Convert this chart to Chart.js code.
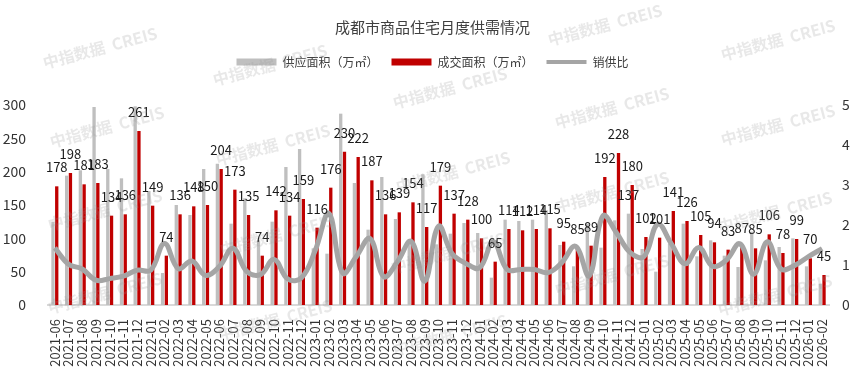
<!DOCTYPE html>
<html>
<head>
<meta charset="utf-8">
<script src="https://cdn.jsdelivr.net/npm/chart.js@4.4.1/dist/chart.umd.min.js"></script>
<style>
    html, body { margin: 0; padding: 0; background: #fff; }
</style>
</head>
<body>
<canvas id="supplyChart" width="865" height="370"></canvas>
<script>
const months = [
    '2021-06', '2021-07', '2021-08', '2021-09', '2021-10', '2021-11', '2021-12',
    '2022-01', '2022-02', '2022-03', '2022-04', '2022-05', '2022-06', '2022-07', '2022-08', '2022-09', '2022-10', '2022-11', '2022-12',
    '2023-01', '2023-02', '2023-03', '2023-04', '2023-05', '2023-06', '2023-07', '2023-08', '2023-09', '2023-10', '2023-11', '2023-12',
    '2024-01', '2024-02', '2024-03', '2024-04', '2024-05', '2024-06', '2024-07', '2024-08', '2024-09', '2024-10', '2024-11', '2024-12',
    '2025-01', '2025-02', '2025-03', '2025-04', '2025-05', '2025-06', '2025-07', '2025-08', '2025-09', '2025-10', '2025-11', '2025-12',
    '2026-01', '2026-02'
];

// 供应面积（万㎡）
const supplyArea = [
    125, 194, 202, 297, 204, 190, 298,
    171, 48, 150, 135, 204, 212, 122, 160, 97, 125, 207, 234,
    85, 77, 287, 183, 113, 192, 129, 97, 196, 91, 107, 123,
    108, 41, 128, 126, 128, 142, 90, 58, 122, 86, 127, 137,
    84, 50, 92, 122, 73, 97, 74, 57, 110, 67, 87, 100,
    58, 32
];

// 成交面积（万㎡）
const dealArea = [
    178, 198, 181, 183, 134, 136, 261,
    149, 74, 136, 148, 150, 204, 173, 135, 74, 142, 134, 159,
    116, 176, 230, 222, 187, 136, 139, 154, 117, 179, 137, 128,
    100, 65, 114, 112, 114, 115, 95, 85, 89, 192, 228, 180,
    102, 101, 141, 126, 105, 94, 83, 87, 85, 106, 78, 99,
    70, 45
];

// 销供比
const salesRatio = [
    1.43, 1.02, 0.90, 0.62, 0.66, 0.72, 0.87,
    0.87, 1.54, 0.91, 1.10, 0.74, 0.96, 1.42, 0.84, 0.76, 1.14, 0.65, 0.68,
    1.36, 2.29, 0.80, 1.21, 1.66, 0.71, 1.08, 1.59, 0.60, 1.97, 1.28, 1.04,
    0.93, 1.58, 0.89, 0.89, 0.89, 0.81, 1.06, 1.47, 0.73, 2.23, 1.80, 1.31,
    1.21, 2.02, 1.53, 1.03, 1.44, 0.97, 1.12, 1.53, 0.77, 1.58, 0.90, 0.99,
    1.21, 1.41
];

// the one supply bar that carries a value label in the source
const labelledSupplyMonths = ['2024-12'];

const FONT = '"Noto Sans CJK SC", "Noto Sans", sans-serif';

const watermarkSpots = [
    [100, 48], [107, 127], [105, 210], [105, 293],
    [270, 65], [273, 145], [277, 235], [275, 320],
    [450, 88], [453, 172], [448, 253], [450, 335],
    [605, 25], [612, 108], [612, 192], [612, 275],
    [778, 40], [778, 125], [775, 212], [775, 295]
];

const valueLabels = {
    id: 'valueLabels',
    afterDatasetsDraw(chart) {
        const ctx = chart.ctx;
        ctx.save();
        ctx.font = '13px ' + FONT;
        ctx.fillStyle = '#1a1a1a';
        ctx.textAlign = 'center';
        ctx.textBaseline = 'middle';
        chart.data.datasets.forEach((ds, i) => {
            if (ds.type === 'line') return;
            const meta = chart.getDatasetMeta(i);
            meta.data.forEach((bar, j) => {
                if (ds.showAll || labelledSupplyMonths.includes(months[j])) {
                    ctx.fillText(ds.data[j], bar.x, bar.y - 19);
                }
            });
        });
        ctx.restore();
    }
};

const watermark = {
    id: 'watermark',
    afterDraw(chart) {
        const ctx = chart.ctx;
        ctx.save();
        ctx.font = 'bold 16px ' + FONT;
        ctx.fillStyle = 'rgba(150, 150, 150, 0.22)';
        ctx.textAlign = 'center';
        ctx.textBaseline = 'middle';
        watermarkSpots.forEach(([x, y]) => {
            ctx.save();
            ctx.translate(x, y);
            ctx.rotate(-15 * Math.PI / 180);
            ctx.fillText('中指数据  CREIS', 0, 0);
            ctx.restore();
        });
        ctx.restore();
    }
};

// extra room between legend and plot
const legendMargin = {
    id: 'legendMargin',
    beforeInit(chart) {
        const fit = chart.legend.fit;
        chart.legend.fit = function () {
            fit.bind(chart.legend)();
            this.height += 27;
        };
    }
};

new Chart(document.getElementById('supplyChart'), {
    type: 'bar',
    data: {
        labels: months,
        datasets: [{
            label: '供应面积（万㎡）',
            data: supplyArea,
            backgroundColor: '#BFBFBF',
            borderColor: '#BFBFBF',
            categoryPercentage: 0.55,
            barPercentage: 0.88,
            yAxisID: 'y',
            order: 1
        }, {
            label: '成交面积（万㎡）',
            data: dealArea,
            backgroundColor: '#C00000',
            borderColor: '#C00000',
            categoryPercentage: 0.55,
            barPercentage: 0.88,
            yAxisID: 'y',
            order: 2,
            showAll: true
        }, {
            type: 'line',
            label: '销供比',
            data: salesRatio,
            borderColor: '#A5A5A5',
            backgroundColor: '#A5A5A5',
            borderWidth: 5,
            tension: 0.4,
            pointRadius: 0,
            yAxisID: 'y1',
            order: 0
        }]
    },
    options: {
        responsive: false,
        devicePixelRatio: 1,
        animation: false,
        layout: { padding: 0 },
        plugins: {
            title: {
                display: true,
                text: '成都市商品住宅月度供需情况',
                color: '#404040',
                font: { family: FONT, size: 15, weight: 'normal' },
                padding: { top: 18, bottom: 7 }
            },
            legend: {
                labels: {
                    usePointStyle: true,
                    pointStyleWidth: 40,
                    boxHeight: 7,
                    padding: 13,
                    color: '#404040',
                    font: { family: FONT, size: 12 },
                    generateLabels(chart) {
                        return chart.data.datasets.map((ds, i) => ({
                            text: ds.label,
                            fillStyle: ds.backgroundColor,
                            strokeStyle: ds.borderColor,
                            lineWidth: ds.type === 'line' ? 4 : 0,
                            pointStyle: ds.type === 'line' ? 'line' : 'rect',
                            fontColor: '#404040',
                            datasetIndex: i,
                            hidden: false
                        }));
                    }
                }
            },
            tooltip: { enabled: false }
        },
        scales: {
            x: {
                offset: true,
                grid: { display: false },
                border: { color: '#D9D9D9', width: 2 },
                ticks: {
                    autoSkip: false,
                    minRotation: 90,
                    maxRotation: 90,
                    padding: 6,
                    color: '#333',
                    font: { family: FONT, size: 13 }
                },
                afterFit(scale) { scale.height = 65; }
            },
            y: {
                position: 'left',
                min: 0,
                max: 300,
                grid: { display: false },
                border: { display: false },
                ticks: {
                    stepSize: 50,
                    padding: 14,
                    color: '#333',
                    font: { family: FONT, size: 14 }
                },
                afterFit(scale) { scale.width = 48; }
            },
            y1: {
                position: 'right',
                min: 0,
                max: 5,
                grid: { display: false },
                border: { display: false },
                ticks: {
                    stepSize: 1,
                    padding: 5,
                    color: '#333',
                    font: { family: FONT, size: 14 }
                },
                afterFit(scale) { scale.width = 36; }
            }
        }
    },
    plugins: [valueLabels, watermark, legendMargin]
});
</script>
</body>
</html>
